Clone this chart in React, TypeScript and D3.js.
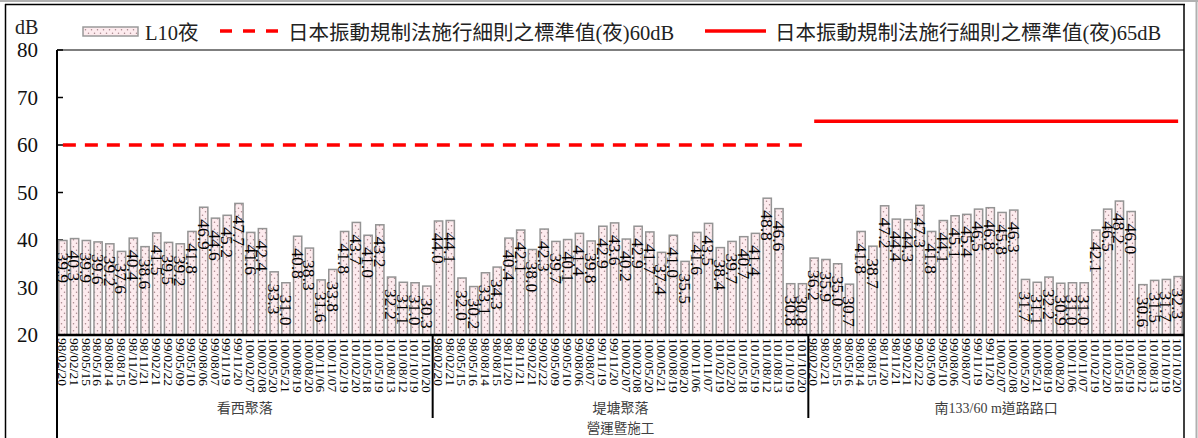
import React from "react";
import * as d3 from "d3";

const dates = [
  "98/02/20","98/02/21","98/05/15","98/05/16","98/08/14","98/08/15","98/11/20","98/11/21",
  "99/02/21","99/02/22","99/05/09","99/05/10","99/08/06","99/08/07","99/11/19","99/11/20",
  "100/02/07","100/02/08","100/05/20","100/05/21","100/08/19","100/08/20","100/11/06","100/11/07",
  "101/02/19","101/02/20","101/05/18","101/05/19","101/08/12","101/08/13","101/10/19","101/10/20",
];
const datesKanxi = [
  "98/02/20","98/02/21","98/05/15","98/05/16","98/08/14","98/08/15","98/11/20","98/11/21",
  "99/02/21","99/02/22","99/05/09","99/05/10","99/08/06","99/08/07","99/11/19","99/11/20",
  "100/02/07","100/02/08","100/05/20","100/05/21","100/08/19","100/08/20","100/11/06","100/11/07",
  "101/02/19","101/02/20","101/05/18","101/05/19","101/08/13","101/08/12","101/10/19","101/10/20",
];

const sites = ["看西聚落", "堤塘聚落", "南133/60 m道路路口"];
const outerLabel = "營運暨施工";

const kanxiValues = [39.9, 40.3, 39.9, 39.6, 39.2, 37.6, 40.4, 38.6, 41.5, 39.5, 39.2, 41.8, 46.9, 44.6, 45.2, 47.7,
  41.6, 42.4, 33.3, 31.0, 40.8, 38.3, 31.6, 33.8, 41.8, 43.7, 41.0, 43.2, 32.2, 31.1, 31.0, 30.3];
const ditangValues = [44.0, 44.1, 32.0, 30.2, 33.1, 34.3, 40.4, 42.1, 38.0, 42.3, 39.7, 40.1, 41.4, 39.8, 42.9, 43.6,
  40.2, 42.9, 41.7, 37.4, 41.0, 35.5, 41.6, 43.5, 38.4, 39.7, 40.7, 41.4, 48.8, 46.6, 30.8, 30.8];
const roadValues = [36.2, 35.9, 35.0, 30.7, 41.8, 38.7, 47.2, 44.4, 44.3, 47.3, 41.8, 44.1, 45.1, 45.4, 46.5, 46.8,
  45.8, 46.3, 31.7, 31.1, 32.2, 30.9, 31.0, 31.0, 42.1, 46.5, 48.2, 46.0, 30.6, 31.5, 31.7, 32.3];

const yTicks = [20, 30, 40, 50, 60, 70, 80];
const std60 = 60;
const std65 = 65;
const legendLabels = ["L10夜", "日本振動規制法施行細則之標準值(夜)60dB", "日本振動規制法施行細則之標準值(夜)65dB"];

const W = 1198;
const H = 438;
const plotL = 57;
const plotR = 1184;
const plotT = 50;
const plotB = 335;

const FONT = "'Liberation Serif', 'Times New Roman', 'Noto Sans CJK TC', serif";

export default function App() {
  const allValues = [...kanxiValues, ...ditangValues, ...roadValues];
  const allDates = [...datesKanxi, ...dates, ...dates];
  const groupSizes = [kanxiValues.length, ditangValues.length, roadValues.length];
  const n = allValues.length;

  const x = d3.scaleBand<number>().domain(d3.range(n)).range([plotL, plotR]).paddingInner(0.3).paddingOuter(0.15);
  const y = d3.scaleLinear().domain([20, 80]).range([plotB, plotT]);
  const step = x.step();
  const cx = (i: number) => (x(i) as number) + x.bandwidth() / 2;

  const groupStart: number[] = [];
  let acc = 0;
  groupSizes.forEach((s) => { groupStart.push(acc); acc += s; });
  const groupEdge = (k: number) => plotL + step * k;

  const dashLine = d3.line<[number, number]>()([[cx(0), y(std60)], [cx(groupSizes[0] + groupSizes[1] - 1), y(std60)]]);
  const solidLine = d3.line<[number, number]>()([[cx(groupSizes[0] + groupSizes[1]), y(std65)], [cx(n - 1), y(std65)]]);

  return (
    <div>
      <style>{`body{margin:0;background:#fff}`}</style>
      <svg width={W} height={H} style={{ display: "block", fontFamily: FONT }}>
        <defs>
          <pattern id="dots" width="6" height="7" patternUnits="userSpaceOnUse">
            <rect width="6" height="7" fill="#fdebee" />
            <circle cx="1.5" cy="1.75" r="0.75" fill="#a8868c" />
            <circle cx="4.5" cy="5.25" r="0.75" fill="#a8868c" />
          </pattern>
        </defs>
        <rect x={0} y={0} width={W} height={H} fill="#fff" />
        {/* outer frame */}
        <line x1={0} x2={W} y1={1} y2={1} stroke="#b0b0b0" strokeWidth={2} />
        <line x1={1196.5} x2={1196.5} y1={0} y2={H} stroke="#b0b0b0" strokeWidth={2} />
        <line x1={5} x2={1185} y1={4.5} y2={4.5} stroke="#000" strokeWidth={1.5} />
        <line x1={5.5} x2={5.5} y1={4} y2={H} stroke="#000" strokeWidth={1.5} />

        {/* legend */}
        <rect x={83} y={27} width={55} height={9} fill="url(#dots)" stroke="#9a9a9a" strokeWidth={1.5} />
        <text x={145} y={40} fontSize={20.5} fill="#222">{legendLabels[0]}</text>
        <line x1={220} x2={281} y1={31} y2={31} stroke="#ff0000" strokeWidth={3.5} strokeDasharray="12,11" />
        <text x={288} y={40} fontSize={20.5} fill="#222">{legendLabels[1]}</text>
        <line x1={705} x2={766} y1={31} y2={31} stroke="#ff0000" strokeWidth={3.5} />
        <text x={775} y={40} fontSize={20.5} fill="#222">{legendLabels[2]}</text>

        {/* y axis label & ticks */}
        <text x={15} y={34} fontSize={20} fill="#222">dB</text>
        {yTicks.map((t) => (
          <g key={t}>
            <text x={38} y={y(t)} dy="0.35em" textAnchor="end" fontSize={21} fill="#111">{t}</text>
            <line x1={plotL} x2={plotL + 6} y1={y(t)} y2={y(t)} stroke="#000" strokeWidth={1.5} />
          </g>
        ))}

        {/* plot border */}
        <line x1={plotL} x2={plotR} y1={plotT} y2={plotT} stroke="#000" strokeWidth={1.2} />
        <line x1={plotR} x2={plotR} y1={4} y2={H} stroke="#000" strokeWidth={1.5} />

        {/* bars */}
        {allValues.map((v, i) => (
          <rect key={"b" + i} x={x(i)} y={y(v)} width={x.bandwidth()} height={plotB - y(v)}
            fill="url(#dots)" stroke="#949494" strokeWidth={1.5} />
        ))}

        {/* standard lines */}
        <path d={dashLine || ""} stroke="#ff0000" strokeWidth={3.5} strokeDasharray="13,9" fill="none" />
        <path d={solidLine || ""} stroke="#ff0000" strokeWidth={3.5} fill="none" />

        {/* value labels */}
        {allValues.map((v, i) => (
          <text key={"v" + i} transform={`translate(${cx(i)},${y(v) + 12}) rotate(90)`} dy="0.35em"
            fontSize={17.5} fill="#000">{v.toFixed(1)}</text>
        ))}

        {/* axes */}
        <line x1={plotL} x2={plotL} y1={plotT} y2={H} stroke="#000" strokeWidth={2} />
        <line x1={plotL} x2={plotR} y1={plotB} y2={plotB} stroke="#000" strokeWidth={2.5} />

        {/* date labels */}
        {allDates.map((d, i) => (
          <text key={"d" + i} transform={`translate(${cx(i)},${plotB + 3}) rotate(90)`} dy="0.35em"
            fontSize={13.5} fill="#000">{d}</text>
        ))}

        {/* group separators and labels */}
        {groupStart.slice(1).map((g, k) => (
          <line key={"s" + k} x1={groupEdge(g)} x2={groupEdge(g)} y1={plotB} y2={418} stroke="#000" strokeWidth={2} />
        ))}
        {sites.map((s, k) => {
          const mid = (groupEdge(groupStart[k]) + groupEdge(groupStart[k] + groupSizes[k])) / 2;
          return <text key={"g" + k} x={mid} y={413} textAnchor="middle" fontSize={14} fill="#404040">{s}</text>;
        })}
        <text x={(plotL + plotR) / 2} y={433} textAnchor="middle" fontSize={13.5} fill="#404040">{outerLabel}</text>
      </svg>
    </div>
  );
}
